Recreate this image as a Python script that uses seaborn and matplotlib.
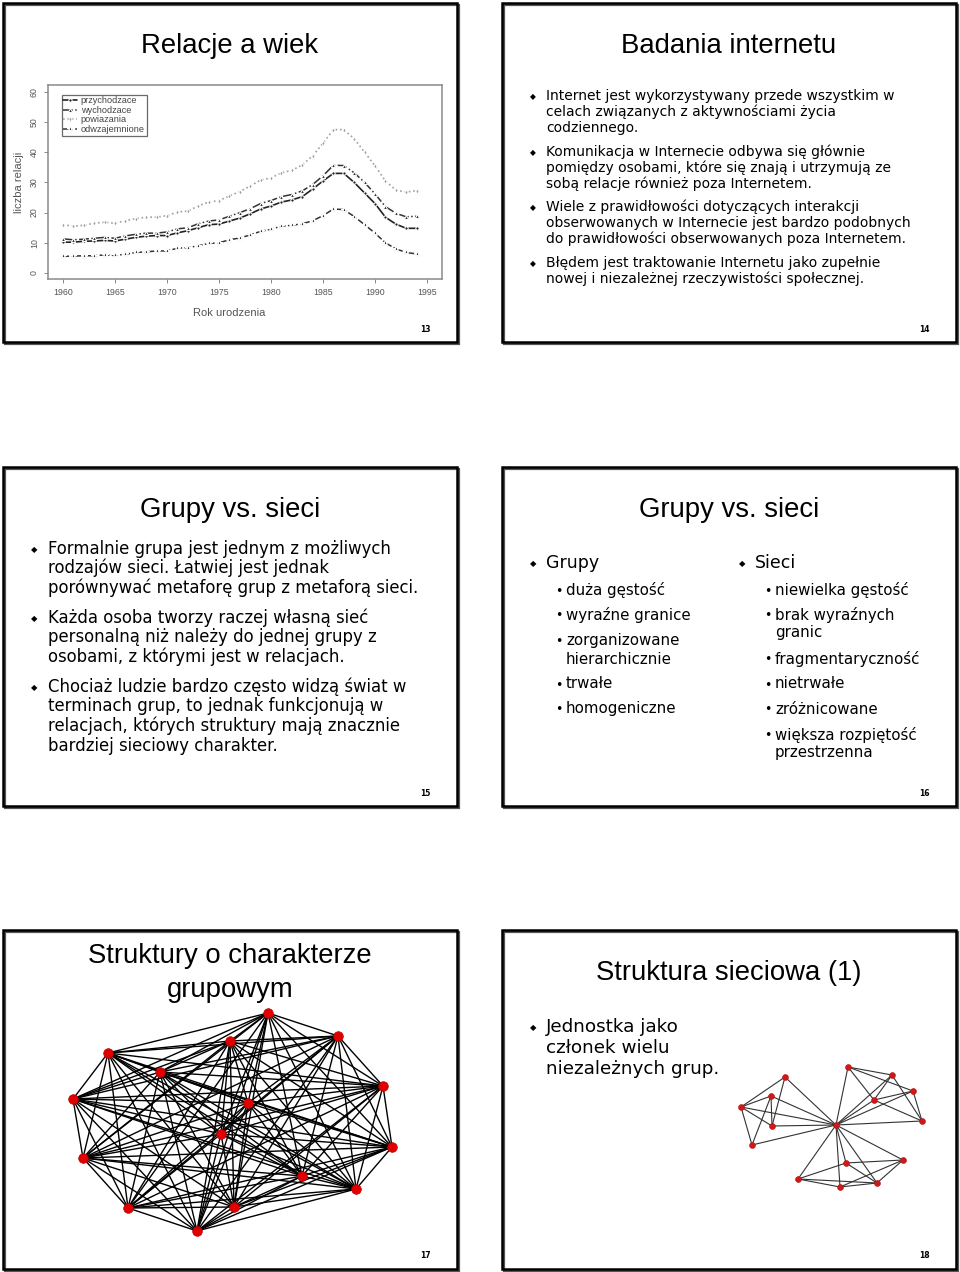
import itertools
import numpy as np
import pandas as pd
import matplotlib.pyplot as plt
from matplotlib.patches import Rectangle
import seaborn as sns

# ---- data for the "Relacje a wiek" chart ----
years = list(range(1960, 1995))
przychodzace = [10.2, 10.2, 10.5, 10.6, 10.8, 10.6, 11.2, 11.8, 12.2, 12.4, 12.4, 13.3, 14.0, 15.0,
                16.0, 16.2, 17.2, 18.2, 19.6, 21.2, 22.2, 23.5, 24.2, 25.3, 27.8, 30.5, 33.0, 33.0,
                30.0, 26.5, 23.0, 18.5, 16.2, 14.8, 14.8]
wychodzace = [11.3, 11.0, 11.2, 11.5, 11.8, 11.5, 12.3, 12.8, 13.2, 13.2, 13.6, 14.6, 15.0, 16.3,
              17.2, 17.6, 18.8, 20.0, 21.3, 23.0, 24.0, 25.3, 26.0, 27.2, 29.3, 32.2, 35.7, 35.6,
              33.2, 30.0, 26.2, 22.0, 19.8, 18.6, 18.8]
powiazania = [16.0, 15.5, 15.8, 16.5, 16.8, 16.5, 17.3, 18.0, 18.5, 18.5, 19.0, 20.2, 20.5, 22.2,
              23.5, 24.0, 25.5, 27.0, 28.8, 30.8, 31.5, 33.2, 34.0, 35.8, 38.8, 43.0, 47.5, 47.5,
              44.5, 40.0, 35.5, 30.5, 27.5, 26.8, 27.3]
odwzajemnione = [5.5, 5.6, 5.7, 5.7, 6.0, 5.8, 6.2, 6.8, 7.0, 7.3, 7.3, 8.2, 8.4, 9.0,
                 9.8, 10.0, 11.0, 11.6, 12.6, 13.8, 14.5, 15.5, 15.8, 16.3, 17.3, 19.0, 21.2, 21.0,
                 18.7, 16.0, 13.2, 10.0, 8.0, 6.8, 6.3]
series_names = ["przychodzace", "wychodzace", "powiazania", "odwzajemnione"]

# ---- network on slide 17 (nearly complete group graph) ----
group_x = [265, 335, 227, 105, 157, 380, 70, 245, 218, 389, 80, 299, 353, 125, 231, 194]
group_y = [83, 106, 111, 123, 142, 156, 169, 173, 204, 217, 228, 246, 259, 278, 277, 301]

# ---- network on slide 18 (one person in three groups) ----
net_names = ["C", "a", "b", "c", "d", "e", "f", "g", "h", "i", "j", "k", "l", "m", "n", "o"]
net_x = [334, 283, 269, 239, 270, 250, 346, 390, 411, 372, 420, 401, 344, 296, 338, 375]
net_y = [195, 147, 166, 177, 196, 215, 137, 145, 161, 170, 191, 230, 233, 249, 257, 253]
net_edges = [("c", "a"), ("c", "b"), ("c", "d"), ("c", "e"), ("c", "C"), ("b", "d"), ("b", "e"),
             ("b", "C"), ("a", "d"), ("a", "C"), ("d", "C"), ("e", "C"),
             ("f", "g"), ("f", "h"), ("f", "i"), ("f", "C"), ("g", "i"), ("g", "j"), ("g", "C"),
             ("h", "i"), ("h", "j"), ("h", "C"), ("i", "j"), ("i", "C"), ("j", "C"),
             ("C", "k"), ("C", "l"), ("C", "m"), ("C", "n"), ("C", "o"), ("m", "l"), ("m", "n"),
             ("m", "o"), ("l", "k"), ("l", "o"), ("n", "o"), ("n", "k"), ("k", "o")]

sns.set_style("white")
plt.rcParams['font.family'] = ['DejaVu Sans']
plt.rcParams['text.color'] = 'black'

W, H = 960, 1272
fig = plt.figure(figsize=(9.6, 12.72), dpi=100)

# background axes in pixel coordinates for the slide frames and texts
bg = fig.add_axes([0, 0, 1, 1])
bg.set_xlim(0, W)
bg.set_ylim(H, 0)
bg.axis('off')

slides = [(3, 3), (502, 3), (3, 467), (502, 467), (3, 930), (502, 930)]
sw, sh = 454, 339
for (sx, sy) in slides:
    bg.add_patch(Rectangle((sx + 2, sy + 2), sw, sh, fill=False, lw=1.6, edgecolor='#555555'))
    bg.add_patch(Rectangle((sx, sy), sw, sh, fill=False, lw=1.8, edgecolor='black'))

title_font = ['Liberation Sans', 'DejaVu Sans']
body_font = ['DejaVu Sans']
TS = 19.8


def title(x, y, s):
    bg.text(x, y, s, fontsize=TS, family=title_font, ha='center', va='center', color='black')


def bullets(x_b, x_t, lines, size, bsize=6, mark='◆'):
    # lines: list of (y, text, first_line_of_paragraph)
    for y, s, first in lines:
        if first:
            bg.text(x_b, y + 1, mark, fontsize=bsize, family=body_font, ha='left', va='center',
                    color='black')
        bg.text(x_t, y, s, fontsize=size, family=body_font, ha='left', va='center', color='black')


# slide numbers
for (sx, sy), n in zip(slides, ["13", "14", "15", "16", "17", "18"]):
    bg.text(sx + 422, sy + 326, n, fontsize=5.5, ha='center', va='center', fontweight='bold')

# ---- slide 13 ----
title(230, 46, "Relacje a wiek")

chart_font = ['Liberation Sans', 'DejaVu Sans']
ax = fig.add_axes([48 / W, 1 - 279 / H, (442 - 48) / W, (279 - 85) / H])
df = pd.DataFrame({"rok": years, "przychodzace": przychodzace, "wychodzace": wychodzace,
                   "powiazania": powiazania, "odwzajemnione": odwzajemnione})
styles = {
    "przychodzace": dict(color='#222222', linestyle='-', marker='o', markersize=2.4, lw=1.2),
    "wychodzace": dict(color='#333333', linestyle='-.', marker='^', markersize=3.0, lw=1.1),
    "powiazania": dict(color='#a0a0a0', linestyle=':', marker='d', markersize=2.8, lw=1.2),
    "odwzajemnione": dict(color='#333333', linestyle=(0, (4, 1.5, 1, 1.5)), marker='*',
                          markersize=3.8, lw=1.1),
}
for name in series_names:
    sns.lineplot(data=df, x="rok", y=name, ax=ax, label=name, **styles[name])
ax.set_xlim(1958.56, 1996.44)
ax.set_ylim(-2.0, 62.3)
ax.set_xticks(range(1960, 2000, 5))
ax.set_yticks(range(0, 70, 10))
ax.tick_params(axis='both', direction='out', length=3, width=0.6, colors='#777777',
               labelsize=6.3, labelcolor='#555555', left=True, bottom=True)
for lbl in ax.get_xticklabels() + ax.get_yticklabels():
    lbl.set_family(chart_font)
for lbl in ax.get_yticklabels():
    lbl.set_rotation(90)
    lbl.set_va('center')
for sp in ax.spines.values():
    sp.set_color('#8a8a8a')
    sp.set_linewidth(1.1)
ax.set_xlabel("Rok urodzenia", fontsize=8, color='#555555', family=chart_font)
ax.set_ylabel("liczba relacji", fontsize=8, color='#555555', family=chart_font)
ax.xaxis.set_label_coords(0.46, -0.15)
ax.yaxis.set_label_coords(-0.062, 0.5)
leg = ax.legend(loc='upper left', frameon=True, fancybox=False,
                prop={'family': chart_font, 'size': 6.6},
                edgecolor='#444444', handlelength=1.5, borderpad=0.2, labelspacing=0.05,
                bbox_to_anchor=(0.03, 0.96), handletextpad=0.4, borderaxespad=0.2)
leg.get_frame().set_linewidth(0.9)
for t in leg.get_texts():
    t.set_color('#444444')

# ---- slide 14 ----
title(729, 46, "Badania internetu")
p14 = [
    (96, "Internet jest wykorzystywany przede wszystkim w", True),
    (112, "celach związanych z aktywnościami życia", False),
    (128, "codziennego.", False),
    (152, "Komunikacja w Internecie odbywa się głównie", True),
    (168, "pomiędzy osobami, które się znają i utrzymują ze", False),
    (184, "sobą relacje również poza Internetem.", False),
    (207, "Wiele z prawidłowości dotyczących interakcji", True),
    (223, "obserwowanych w Internecie jest bardzo podobnych", False),
    (239, "do prawidłowości obserwowanych poza Internetem.", False),
    (263, "Błędem jest traktowanie Internetu jako zupełnie", True),
    (279, "nowej i niezależnej rzeczywistości społecznej.", False),
]
bullets(530, 546, p14, 10.0, bsize=5.5)

# ---- slide 15 ----
title(230, 510, "Grupy vs. sieci")
p15 = [
    (549, "Formalnie grupa jest jednym z możliwych", True),
    (568, "rodzajów sieci. Łatwiej jest jednak", False),
    (588, "porównywać metaforę grup z metaforą sieci.", False),
    (618, "Każda osoba tworzy raczej własną sieć", True),
    (637, "personalną niż należy do jednej grupy z", False),
    (657, "osobami, z którymi jest w relacjach.", False),
    (687, "Chociaż ludzie bardzo często widzą świat w", True),
    (706, "terminach grup, to jednak funkcjonują w", False),
    (726, "relacjach, których struktury mają znacznie", False),
    (746, "bardziej sieciowy charakter.", False),
]
bullets(31, 48, p15, 11.9, bsize=6)

# ---- slide 16 ----
title(729, 510, "Grupy vs. sieci")
bullets(530, 546, [(563, "Grupy", True)], 12.5, bsize=6)
bullets(739, 755, [(563, "Sieci", True)], 12.5, bsize=6)
grupy = [(590, "duża gęstość", True), (615, "wyraźne granice", True),
         (640, "zorganizowane", True), (659, "hierarchicznie", False),
         (684, "trwałe", True), (709, "homogeniczne", True)]
sieci = [(590, "niewielka gęstość", True), (615, "brak wyraźnych", True), (633, "granic", False),
         (659, "fragmentaryczność", True), (684, "nietrwałe", True), (709, "zróżnicowane", True),
         (735, "większa rozpiętość", True), (753, "przestrzenna", False)]
bullets(555, 566, grupy, 10.8, bsize=9, mark='•')
bullets(764, 775, sieci, 10.8, bsize=9, mark='•')

# ---- slide 17 ----
bg.text(230, 956, "Struktury o charakterze", fontsize=TS, family=title_font, ha='center',
        va='center', color='black')
bg.text(230, 990, "grupowym", fontsize=TS, family=title_font, ha='center', va='center',
        color='black')
ax17 = fig.add_axes([3 / W, 1 - (930 + sh) / H, sw / W, sh / H])
ax17.set_xlim(0, sw)
ax17.set_ylim(sh, 0)
ax17.axis('off')
ax17.patch.set_alpha(0)
for i, j in itertools.combinations(range(len(group_x)), 2):
    ax17.plot([group_x[i], group_x[j]], [group_y[i], group_y[j]], color='black', lw=1.0, zorder=1)
sns.scatterplot(x=group_x, y=group_y, ax=ax17, color='#e00000', s=48, edgecolor='#c00000',
                linewidth=0.5, zorder=3)

# ---- slide 18 ----
title(729, 973, "Struktura sieciowa (1)")
bullets(530, 546, [(1027, "Jednostka jako", True), (1048, "członek wielu", False),
                   (1069, "niezależnych grup.", False)], 13.2, bsize=6)
ax18 = fig.add_axes([502 / W, 1 - (930 + sh) / H, sw / W, sh / H])
ax18.set_xlim(0, sw)
ax18.set_ylim(sh, 0)
ax18.axis('off')
ax18.patch.set_alpha(0)
pos = {n: (x, y) for n, x, y in zip(net_names, net_x, net_y)}
for a, b in net_edges:
    ax18.plot([pos[a][0], pos[b][0]], [pos[a][1], pos[b][1]], color='#333333', lw=0.8, zorder=1)
sns.scatterplot(x=net_x, y=net_y, ax=ax18, color='#d01818', s=18, edgecolor='#b01010',
                linewidth=0.4, zorder=3)

fig.savefig("out.png", dpi=100, facecolor='white')
